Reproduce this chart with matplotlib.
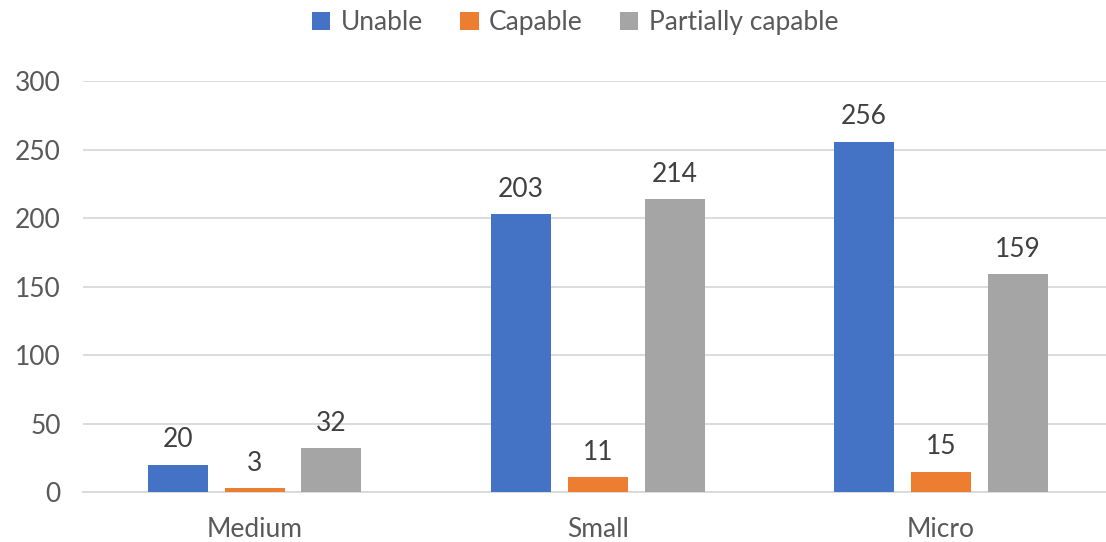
import matplotlib
matplotlib.use("Agg")
import matplotlib.pyplot as plt
import numpy as np

plt.rcParams['font.family'] = ['Lato', 'DejaVu Sans']

categories = ['Medium', 'Small', 'Micro']
series_names = ['Unable', 'Capable', 'Partially capable']
unable = [20, 203, 256]
capable = [3, 11, 15]
partial = [32, 214, 159]
colors = ['#4472C4', '#ED7D31', '#A5A5A5']
yticks = [0, 50, 100, 150, 200, 250, 300]

fig = plt.figure(figsize=(11.06, 5.42), dpi=100)
ax = fig.add_axes([0.075, 0.092, 0.931, 0.758])

x = np.arange(len(categories))
width = 0.175
offset = 0.224
for i, (vals, name, col) in enumerate(zip([unable, capable, partial], series_names, colors)):
    bars = ax.bar(x + (i - 1) * offset, vals, width, color=col, label=name, zorder=3)
    for b, v in zip(bars, vals):
        ax.text(b.get_x() + b.get_width() / 2, v + 9, str(v), ha='center', va='bottom',
                fontsize=19, color='#404040')

ax.set_xlim(-0.5, 2.5)
ax.set_ylim(0, 300)
ax.set_yticks(yticks)
ax.set_xticks(x)
ax.set_xticklabels(categories)
ax.tick_params(axis='both', length=0, labelsize=19, labelcolor='#595959')
ax.tick_params(axis='x', pad=18)
ax.tick_params(axis='y', pad=16)
ax.grid(axis='y', color='#D9D9D9', linewidth=1.3, zorder=0)
for s in ['top', 'right', 'left']:
    ax.spines[s].set_visible(False)
ax.spines['bottom'].set_color('#D9D9D9')
ax.spines['bottom'].set_linewidth(1.3)

fig.legend(loc='upper center', bbox_to_anchor=(0.52, 1.025), ncol=3, frameon=False,
           fontsize=19, labelcolor='#595959', handlelength=0.7, handleheight=0.7,
           handletextpad=0.4, columnspacing=1.4)

fig.savefig('out.png', dpi=100)
